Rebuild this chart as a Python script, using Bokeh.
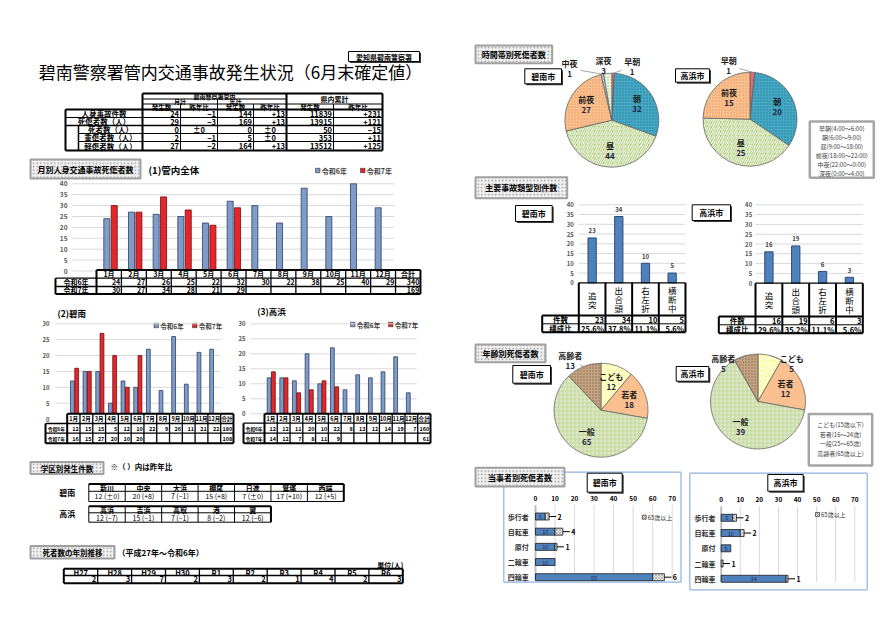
import math
from collections import defaultdict
from bokeh.plotting import figure
from bokeh.models import Range1d, ColumnDataSource
from bokeh.core.properties import value
from bokeh.embed import file_html
from bokeh.resources import INLINE

JP = "Noto Sans CJK JP"

# ================= data =================
summary_rows = ["人身事故件数", "死傷者数（人）", "死者数（人）", "重傷者数（人）", "軽傷者数（人）"]
month_count = [24, 29, 0, 2, 27]
month_diff = ["−1", "−3", "±0", "−1", "−2"]
year_count = [144, 169, 0, 5, 164]
year_diff = ["+13", "+13", "±0", "±0", "+13"]
pref_count = [11839, 13915, 50, 353, 13512]
pref_diff = ["+231", "+121", "−15", "+11", "+125"]

months = ["1月", "2月", "3月", "4月", "5月", "6月", "7月", "8月", "9月", "10月", "11月", "12月"]
total_r6 = [24, 27, 26, 25, 22, 32, 30, 22, 38, 25, 40, 29]
total_r7 = [30, 27, 34, 28, 21, 29]
hek_r6 = [12, 15, 15, 5, 12, 10, 22, 9, 26, 11, 21, 22]
hek_r7 = [16, 15, 27, 20, 10, 20]
tak_r6 = [12, 12, 11, 20, 10, 22, 8, 13, 12, 14, 19, 7]
tak_r7 = [14, 12, 7, 8, 11, 9]

hek_schools = ["新川", "中央", "大浜", "棚尾", "日進", "鷲塚", "西端"]
hek_school_cnt = [12, 20, 7, 15, 7, 17, 12]
hek_school_diff = ["±0", "+8", "−1", "+8", "±0", "+10", "+5"]
tak_schools = ["高浜", "吉浜", "高取", "港", "翼"]
tak_school_cnt = [12, 15, 7, 8, 12]
tak_school_diff = ["−7", "−1", "−1", "−2", "−6"]

death_years = ["H27", "H28", "H29", "H30", "R1", "R2", "R3", "R4", "R5", "R6"]
death_counts = [2, 3, 7, 2, 3, 2, 1, 4, 2, 3]

time_bands = ["早朝", "朝", "昼", "前夜", "中夜", "深夜"]
time_ranges = ["(4:00～6:00)", "(6:00～9:00)", "(9:00～18:00)", "(18:00～22:00)", "(22:00～0:00)", "(0:00～4:00)"]
hek_time = [1, 32, 44, 27, 1, 3]
tak_time = [1, 20, 25, 15, 0, 0]

acc_types = ["追突", "出合頭", "右左折", "横断中"]
hek_types = [23, 34, 10, 5]
tak_types = [16, 19, 6, 3]
hek_type_ratio = ["25.6%", "37.8%", "11.1%", "5.6%"]
tak_type_ratio = ["29.6%", "35.2%", "11.1%", "5.6%"]

age_groups = ["こども", "若者", "一般", "高齢者"]
age_ranges = ["(15歳以下)", "(16～24歳)", "(25～65歳)", "(65歳以上)"]
hek_age = [12, 18, 65, 13]
tak_age = [5, 12, 39, 5]

parties = ["歩行者", "自転車", "原付", "二輪車", "四輪車"]
hek_under65 = [5, 10, 10, 10, 60]
hek_over65 = [2, 4, 1, 0, 6]
tak_under65 = [6, 10, 5, 0, 34]
tak_over65 = [2, 2, 0, 1, 1]

# ================= styles =================
BLUE6, BLUE6_LINE = "#7F9CC9", "#2B3F63"
RED7, RED7_LINE = "#E5262B", "#6B0F12"
TIME_STYLE = [
    ("#E46C7B", None),
    ("#45A8C4", (".", "#2A7F99", 3, 0.8)),
    ("#9DC05C", ("/", "#FFFFFF", 4.5, 1.2)),
    ("#FAC090", (".", "#E09A60", 3, 0.8)),
    ("#FFFFFF", ("\\", "#4F81BD", 3, 0.8)),
    ("#F4F8EA", (".", "#9BBB59", 3, 0.8)),
]
AGE_STYLE = [
    ("#FFFF55", ("/", "#FFFFFF", 5, 1.5)),
    ("#FAC090", None),
    ("#DCE8C4", ("+", "#B4CC88", 4, 0.6)),
    ("#C4A484", (".", "#8C6A4A", 3, 0.8)),
]

# ================= figure =================
W, H = 879, 619
O = 0  # page origin of the canvas
p = figure(width=W, height=H, x_range=Range1d(O, O + W), y_range=Range1d(O + H, O),
           output_backend="svg", toolbar_location=None, min_border=0,
           x_axis_location=None, y_axis_location=None)
p.xgrid.visible = False
p.ygrid.visible = False
p.outline_line_color = None
p.background_fill_color = "white"
p.border_fill_color = "white"

EX, EY = {}, {}


def xr(name, px0, px1, v0, v1):
    k = (px1 - px0) / (v1 - v0)
    s = v0 - (px0 - O) / k
    EX[name] = Range1d(start=s, end=s + W / k)
    return k


def yr(name, sy0, sy1, w0, w1):
    k = (sy0 - sy1) / (w1 - w0)
    s = w0 - (O + H - sy0) / k
    EY[name] = Range1d(start=s, end=s + H / k)
    return k


TX = defaultdict(lambda: {"x": [], "y": [], "text": []})


def T(x, y, s, size=7.0, align="center", color="#000000", bold=True, xn="default", yn="default"):
    d = TX[(size, align, color, bold, xn, yn)]
    d["x"].append(x)
    d["y"].append(y)
    d["text"].append(str(s))


def flush_text():
    for (size, align, color, bold, xn, yn), d in TX.items():
        p.text(x="x", y="y", text="text", source=ColumnDataSource(data=dict(d)),
               text_font=value(JP), text_font_size=f"{size}px", text_align=align,
               text_baseline="middle", text_color=color,
               text_font_style="bold" if bold else "normal",
               x_range_name=xn, y_range_name=yn)


LN = defaultdict(lambda: {"x0": [], "y0": [], "x1": [], "y1": []})


def L(x0, y0, x1, y1, w=1.0, color="#000000", xn="default", yn="default"):
    d = LN[(w, color, xn, yn)]
    d["x0"].append(x0)
    d["y0"].append(y0)
    d["x1"].append(x1)
    d["y1"].append(y1)


def flush_lines():
    for (w, color, xn, yn), d in LN.items():
        p.segment(x0="x0", y0="y0", x1="x1", y1="y1", source=ColumnDataSource(data=dict(d)),
                  line_width=w, line_color=color, x_range_name=xn, y_range_name=yn)
    LN.clear()


def title_box(l, r, t, b, s, size=8):
    p.quad(left=[l], right=[r], top=[t], bottom=[b], fill_color="#F2F2F2", line_color="#A0A0A0",
           line_width=2, hatch_pattern=".", hatch_color="#9A9A9A", hatch_scale=3.5, hatch_weight=0.6)
    T((l + r) / 2, (t + b) / 2, s, size)


def city_box(l, r, t, b, s, size=8):
    p.quad(left=[l + 1.5], right=[r + 1.5], top=[t + 1.5], bottom=[b + 1.5], fill_color="#3A3A3A", line_color=None)
    p.quad(left=[l], right=[r], top=[t], bottom=[b], fill_color="white", line_color="#000000", line_width=1)
    T((l + r) / 2, (t + b) / 2, s, size)


def legend_sq(x, y, color, label, size=7):
    p.quad(left=[x], right=[x + 4.5], top=[y - 2.2], bottom=[y + 2.2], fill_color=color, line_color="#333333", line_width=0.6)
    T(x + 6.3, y, label, size, "left", "#404040")


# ================= header =================
city_box(348, 419, 51, 61, "愛知県碧南警察署", 7)
T(230, 71, "碧南警察署管内交通事故発生状況（6月末確定値）", 17, bold=False)

c = [142, 180, 217, 253, 286, 333, 382]
rb = [109, 117, 125, 133, 141, 150]
L0, L0b = 65, 78
L(c[0], 93, c[6], 93, 2)
L(c[0], 98.5, c[4], 98.5, 1)
L(c[0], 103.5, c[6], 103.5, 1)
L(L0, rb[0], c[6], rb[0], 2)
L(L0, rb[1], c[6], rb[1], 1)
L(L0, rb[2], c[6], rb[2], 1.5)
L(L0b, rb[3], c[6], rb[3], 1)
L(L0b, rb[4], c[6], rb[4], 1)
L(L0, rb[5], c[6], rb[5], 2)
L(L0, rb[0], L0, rb[5], 2)
L(L0b, rb[2], L0b, rb[5], 1.5)
for j, (y0, w) in enumerate([(93, 2), (103.5, 1), (98.5, 1), (103.5, 1), (93, 2), (103.5, 1), (93, 2)]):
    L(c[j], y0, c[j], rb[5], w)
T(214, 95.8, "碧南警察署管内", 6)
T(179.5, 101, "月計", 6)
T(235, 101, "年計", 6)
T(334, 98.5, "県内累計", 7)
for j in range(6):
    T((c[j] + c[j + 1]) / 2, 106.3, ["発生数", "昨年比"][j % 2], 6.5)
cols = [month_count, month_diff, year_count, year_diff, pref_count, pref_diff]
for i, lab in enumerate(summary_rows):
    ym = (rb[i] + rb[i + 1]) / 2
    T(((L0 if i < 2 else L0b) + c[0]) / 2, ym, lab, 7.5)
    for j, col in enumerate(cols):
        s = str(col[i])
        if s.startswith("±"):
            T((c[j] + c[j + 1]) / 2, ym, s, 7.5)
        else:
            T(c[j + 1] - 1.5, ym, s, 7.5, "right")


def month_table(x0, cw, lx0, rows, r6, r7, fs, fsl):
    n = len(months) + 1
    x1 = x0 + n * cw
    p.quad(left=[x0, lx0], right=[x1, x0], top=[rows[0], rows[1]], bottom=[rows[3], rows[3]],
           fill_color="white", line_color=None)
    L(x0, rows[0], x1, rows[0], 2)
    L(lx0, rows[1], x1, rows[1], 1.3)
    L(lx0, rows[2], x1, rows[2], 1.3)
    L(lx0, rows[3], x1, rows[3], 2)
    L(lx0, rows[1], lx0, rows[3], 2)
    for k in range(n + 1):
        L(x0 + k * cw, rows[0], x0 + k * cw, rows[3], 2 if k in (0, n) else 1.3)
    ym = [(rows[i] + rows[i + 1]) / 2 for i in range(3)]
    for k, h in enumerate(months + ["合計"]):
        T(x0 + (k + 0.5) * cw, ym[0], h, fs)
    T((lx0 + x0) / 2, ym[1], "令和6年", fsl)
    T((lx0 + x0) / 2, ym[2], "令和7年", fsl)
    for r, vals in ((1, r6), (2, r7)):
        for k, v in enumerate(vals):
            T(x0 + (k + 1) * cw - 1.2, ym[r], v, fs, "right")
        T(x1 - 1.2, ym[r], sum(vals), fs, "right")


# ================= (1) monthly total =================
title_box(30, 140, 159, 178, "月別人身交通事故死傷者数", 8)
T(148, 169, "(1)管内全体", 9.5, "left")
legend_sq(315, 170, BLUE6, "令和6年")
legend_sq(360, 170, RED7, "令和7年")
xr("m", 97.7, 393.7, 0, 12)
yr("m", 270.5, 183.3, 0, 40)
for t in range(0, 41, 5):
    L(72, t, 393.7, t, 1, "#D9D9D9", yn="m")
    T(67, t, t, 6.5, "right", "#595959", yn="m")
flush_lines()
p.vbar(x=[i + 0.35 for i in range(len(total_r6))], top=total_r6, width=0.245, fill_color=BLUE6,
       line_color=BLUE6_LINE, line_width=0.8, x_range_name="m", y_range_name="m")
p.vbar(x=[i + 0.65 for i in range(len(total_r7))], top=total_r7, width=0.245, fill_color=RED7,
       line_color=RED7_LINE, line_width=0.8, x_range_name="m", y_range_name="m")
month_table(96, 24.92, 55, [269.5, 277.7, 286, 293.5], total_r6, total_r7, 7, 7)

# ================= (2) Hekinan =================
T(57, 312.7, "(2)碧南", 8.5, "left")
legend_sq(153.5, 325, BLUE6, "令和6年", 6.5)
legend_sq(192, 325, RED7, "令和7年", 6.5)
xr("hk", 67.7, 219.6, 0, 12)
yr("hk", 418.6, 323.3, 0, 30)
for t in range(0, 31, 5):
    if t > 0:
        L(55, t, 220, t, 1, "#D9D9D9", yn="hk")
    T(49, t, t, 6, "right", "#595959", yn="hk")
flush_lines()
p.vbar(x=[i + 0.33 for i in range(len(hek_r6))], top=hek_r6, width=0.3, fill_color=BLUE6,
       line_color=BLUE6_LINE, line_width=0.8, x_range_name="hk", y_range_name="hk")
p.vbar(x=[i + 0.67 for i in range(len(hek_r7))], top=hek_r7, width=0.3, fill_color=RED7,
       line_color=RED7_LINE, line_width=0.8, x_range_name="hk", y_range_name="hk")
month_table(66.7, 12.79, 45, [413.3, 423, 432.7, 442.7], hek_r6, hek_r7, 5.5, 4.8)

# ================= (3) Takahama =================
T(256.7, 310, "(3)高浜", 8.5, "left")
legend_sq(350, 324, BLUE6, "令和6年", 6.5)
legend_sq(388, 324, RED7, "令和7年", 6.5)
xr("tk", 264.4, 416.3, 0, 12)
yr("tk", 413.3, 323.3, 0, 30)
for t in range(0, 31, 5):
    L(250, t, 416.3, t, 1, "#D9D9D9", yn="tk")
    T(245, t, t, 6, "right", "#595959", yn="tk")
flush_lines()
p.vbar(x=[i + 0.33 for i in range(len(tak_r6))], top=tak_r6, width=0.3, fill_color=BLUE6,
       line_color=BLUE6_LINE, line_width=0.8, x_range_name="tk", y_range_name="tk")
p.vbar(x=[i + 0.67 for i in range(len(tak_r7))], top=tak_r7, width=0.3, fill_color=RED7,
       line_color=RED7_LINE, line_width=0.8, x_range_name="tk", y_range_name="tk")
month_table(264, 12.77, 243, [413.3, 422.7, 432.7, 442.7], tak_r6, tak_r7, 5.5, 4.8)


# ================= school districts =================
def school_table(x0, cw, rows, names, cnts, diffs):
    n = len(names)
    x1 = x0 + n * cw
    L(x0, rows[0], x1, rows[0], 2)
    L(x0, rows[1], x1, rows[1], 1)
    L(x0, rows[2], x1, rows[2], 1)
    for k in range(n + 1):
        L(x0 + k * cw, rows[0], x0 + k * cw, rows[2], 2 if k == n else 1)
    for k in range(n):
        xc = x0 + (k + 0.5) * cw
        T(xc, (rows[0] + rows[1]) / 2, names[k], 7)
        T(xc, (rows[1] + rows[2]) / 2, f"{cnts[k]} ({diffs[k]})", 7, bold=False)


title_box(30, 103, 461.5, 473.5, "学区別発生件数", 7.5)
T(110, 465.7, "※（ ）内は昨年比", 7.5, "left")
T(66.7, 491.7, "碧南", 8)
school_table(88.3, 36.43, [483.5, 490.8, 501], hek_schools, hek_school_cnt, hek_school_diff)
T(66.7, 513.3, "高浜", 8)
school_table(88.3, 36.43, [505.7, 512.3, 521.7], tak_schools, tak_school_cnt, tak_school_diff)

# ================= deaths by year =================
title_box(30, 114, 545.5, 558, "死者数の年別推移", 7.5)
T(117, 552, "（平成27年～令和6年）", 8, "left")
T(403, 564, "単位(人)", 7, "right")
dx0, dcw = 63.3, 33.9
drows = [568.3, 575, 582.7]
dx1 = dx0 + len(death_years) * dcw
L(dx0, drows[0], dx1, drows[0], 2)
L(dx0, drows[1], dx1, drows[1], 1.3)
L(dx0, drows[2], dx1, drows[2], 2)
for k in range(len(death_years) + 1):
    L(dx0 + k * dcw, drows[0], dx0 + k * dcw, drows[2], 2 if k in (0, len(death_years)) else 1.3)
for k, (yl, v) in enumerate(zip(death_years, death_counts)):
    T(dx0 + (k + 0.5) * dcw, (drows[0] + drows[1]) / 2, yl, 7.5)
    T(dx0 + (k + 1) * dcw - 1.5, (drows[1] + drows[2]) / 2, v, 7.5, "right")

# ================= pies =================
yr("pie", O + H, O, -(O + H), -O)


def pie(cx, cy, r, vals, names, styles, outside):
    total = sum(vals)
    cum = 0
    for v, nm, (fill, h) in zip(vals, names, styles):
        if v == 0:
            continue
        f0, f1 = cum / total, (cum + v) / total
        a0 = math.pi / 2 - 2 * math.pi * f0
        a1 = math.pi / 2 - 2 * math.pi * f1
        kw = {}
        if h:
            kw = dict(hatch_pattern=h[0], hatch_color=h[1], hatch_scale=h[2], hatch_weight=h[3])
        p.wedge(x=[cx], y=[-cy], radius=r, start_angle=a0, end_angle=a1, direction="clock",
                fill_color=fill, line_color="#595959", line_width=0.7, y_range_name="pie", **kw)
        th = 2 * math.pi * (f0 + f1) / 2
        if nm in outside:
            dx, dy = outside[nm]
            lx, ly = cx + dx, cy + dy
            ex, ey = cx + r * math.sin(th), cy - r * math.cos(th)
            vx, vy = lx - ex, ly - ey
            d = math.hypot(vx, vy)
            if d > 14:
                L(ex, ey, ex + vx * (d - 11) / d, ey + vy * (d - 11) / d, 0.7, "#7F7F7F")
        else:
            lx, ly = cx + 0.64 * r * math.sin(th), cy - 0.64 * r * math.cos(th)
        T(lx, ly - 5, nm, 8, color="#1A1A1A")
        T(lx, ly + 5.5, v, 8, color="#1F1F3F")
        cum += v


title_box(475, 551.7, 45, 62.7, "時間帯別死傷者数", 8)
pie(611.3, 119.7, 47, hek_time, time_bands, TIME_STYLE,
    {"早朝": (20.4, -53.4), "深夜": (-8.3, -54.5), "中夜": (-42.3, -51.7)})
pie(749.5, 118.7, 47, tak_time, time_bands, TIME_STYLE, {"早朝": (-21.3, -53.7)})
city_box(524.3, 561, 68.3, 83.3, "碧南市")
city_box(675, 709, 68.3, 81.7, "高浜市")
p.quad(left=[809.3], right=[873.3], top=[121], bottom=[177.3], fill_color="white", line_color="#A6A6A6", line_width=2.5)
for j, (b, rg) in enumerate(zip(time_bands, time_ranges)):
    T(841.3, 128.3 + 8.9 * j, b + rg, 6, color="#404040", bold=False)


# ================= accident types =================
def type_chart(name, x0, cw, rows, top_y, lab_right, lx0, counts, ratios):
    n = len(acc_types)
    x1 = x0 + n * cw
    xr(name, x0, x1, 0, n)
    yr(name, rows[0], top_y, 0, 40)
    for t in range(5, 41, 5):
        L(x0, t, x1, t, 1, "#D9D9D9", yn=name)
    for t in range(0, 41, 5):
        T(lab_right, t, t, 6, "right", "#595959", yn=name)
    flush_lines()
    p.vbar(x=[i + 0.5 for i in range(n)], top=counts, width=0.31, fill_color="#4F81BD",
           line_color="#2C4D75", line_width=1, x_range_name=name, y_range_name=name)
    for i, v in enumerate(counts):
        T(i + 0.5, v + 3.7, v, 6, color="#404040", xn=name, yn=name)
    L(x0, rows[0], x1, rows[0], 1.2)
    for k in range(n + 1):
        L(x0 + k * cw, rows[0], x0 + k * cw, rows[3], 2)
    L(lx0, rows[1], x1, rows[1], 2)
    L(lx0, rows[2], x1, rows[2], 1)
    L(lx0, rows[3], x1, rows[3], 2)
    L(lx0, rows[1], lx0, rows[3], 2)
    mid = (rows[0] + rows[1]) / 2
    for k, nm in enumerate(acc_types):
        for j, ch in enumerate(nm):
            T(x0 + (k + 0.5) * cw, mid + (j - (len(nm) - 1) / 2) * 9.2, ch, 8.5, bold=False)
        T(x0 + (k + 1) * cw - 1.5, (rows[1] + rows[2]) / 2, counts[k], 7.5, "right")
        T(x0 + (k + 1) * cw - 1.5, (rows[2] + rows[3]) / 2, ratios[k], 7.5, "right")
    T((lx0 + x0) / 2, (rows[1] + rows[2]) / 2, "件数", 7.5)
    T((lx0 + x0) / 2, (rows[2] + rows[3]) / 2, "構成比", 7.5)


title_box(475, 566.7, 176.7, 197.7, "主要事故類型別件数", 8)
city_box(515, 551.7, 205, 221, "碧南市")
city_box(691.7, 730, 204.3, 220, "高浜市")
type_chart("ah", 578.3, 26.67, [282.3, 315, 323.3, 331.7], 204.3, 573.3, 541.7, hek_types, hek_type_ratio)
type_chart("at", 755, 26.83, [282.7, 316, 324.3, 332.7], 204.3, 751.7, 718.3, tak_types, tak_type_ratio)

# ================= age =================
title_box(475, 545, 344, 361.7, "年齢別死傷者数", 8)
pie(600.5, 409.7, 47, hek_age, age_groups, AGE_STYLE, {"高齢者": (-30.8, -49.7)})
pie(757.5, 401, 47.5, tak_age, age_groups, AGE_STYLE, {"高齢者": (-34.7, -37.7), "こども": (33.7, -37.7)})
city_box(512.3, 550, 365, 382.7, "碧南市")
city_box(675.7, 708.3, 366, 380.7, "高浜市")
p.quad(left=[808.3], right=[871.7], top=[413.5], bottom=[465], fill_color="white", line_color="#A6A6A6", line_width=2.5)
for j, (g, rg) in enumerate(zip(age_groups, age_ranges)):
    T(840, 424 + 9.5 * j, g + rg, 6, color="#404040", bold=False)


# ================= parties =================
def hbar_chart(name, x0px, x70px, y0px, step, lab_x, tick_y, under, over, leg_x, leg_y):
    k = xr(name, x0px, x70px, 0, 70)
    yr(name, y0px, y0px + step, 0, 1)
    for t in range(10, 71, 10):
        L(t, -0.75, t, 4.2, 1, "#D9D9D9", name, name)
    L(0, -0.75, 0, 4.2, 2, "#BFBFBF", name, name)
    for t in range(0, 71, 10):
        T(t, tick_y, t, 6.5, xn=name)
    flush_lines()
    n = len(parties)
    iu = [i for i in range(n) if under[i] > 0]
    p.hbar(y=iu, left=0, right=[under[i] for i in iu], height=0.46, fill_color="#4F81BD",
           line_color="#1A1A1A", line_width=0.8, x_range_name=name, y_range_name=name)
    io = [i for i in range(n) if over[i] > 0]
    p.hbar(y=io, left=[under[i] for i in io], right=[under[i] + over[i] for i in io], height=0.46,
           fill_color="#EDEDED", line_color="#1A1A1A", line_width=0.8, hatch_pattern="x",
           hatch_color="#8C8C8C", hatch_scale=3, hatch_weight=0.6, x_range_name=name, y_range_name=name)
    for i in range(n):
        T(lab_x, i, parties[i], 7, "right", "#333333", yn=name)
        if under[i] > 0:
            T(under[i] / 2, i, under[i], 5.5, color="#1F2A50", bold=False, xn=name, yn=name)
        if over[i] > 0:
            e = under[i] + over[i]
            L(e, i, e + 7 / k, i, 1, "#000000", name, name)
            T(e + 10.5 / k, i, over[i], 7, xn=name, yn=name)
    p.quad(left=[leg_x], right=[leg_x + 4], top=[leg_y - 2], bottom=[leg_y + 2], fill_color="#EDEDED",
           line_color="#1A1A1A", line_width=0.6, hatch_pattern="x", hatch_color="#8C8C8C", hatch_scale=2)
    T(leg_x + 5.5, leg_y, "65歳以上", 6, "left", "#333333", bold=False)


FR = "#8DB3E2"
L(503.3, 486, 503.3, 581.7, 1.2, FR)
L(503.3, 581.7, 680.5, 581.7, 1.2, FR)
L(680.5, 471.7, 680.5, 581.7, 1.2, FR)
L(564, 471.7, 680.5, 471.7, 1.2, FR)
L(689.3, 472.7, 866.7, 472.7, 1.2, FR)
L(689.3, 589.3, 866.7, 589.3, 1.2, FR)
L(689.3, 472.7, 689.3, 589.3, 1.2, FR)
L(866.7, 472.7, 866.7, 589.3, 1.2, FR)
hbar_chart("ph", 535, 671.7, 516, 15.17, 528.3, 498.3, hek_under65, hek_over65, 641.7, 516.7)
hbar_chart("pt", 720.7, 854.3, 517.3, 15.25, 715, 499.3, tak_under65, tak_over65, 815, 514)
title_box(475, 564, 467.3, 486, "当事者別死傷者数", 8)
city_box(586.7, 621.7, 472.7, 491.7, "碧南市")
city_box(767.3, 802.7, 474, 490.7, "高浜市")

flush_lines()
flush_text()
p.extra_x_ranges = EX
p.extra_y_ranges = EY

open("out.html", "w").write(file_html(p, INLINE))
